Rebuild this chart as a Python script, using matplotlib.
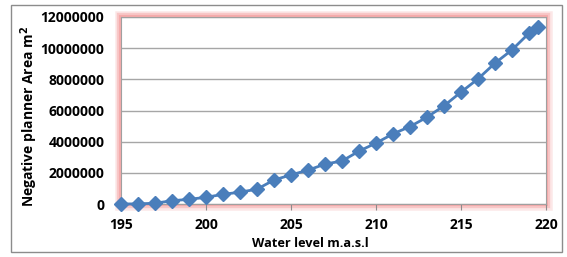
import matplotlib.pyplot as plt
from matplotlib.patches import Rectangle

# Water level (m.a.s.l) and negative planner area (m2)
levels = [195, 196, 197, 198, 199, 200, 201, 202, 203, 204, 205, 206, 207,
          208, 209, 210, 211, 212, 213, 214, 215, 216, 217, 218, 219, 219.5]
area = [0, 10000, 50000, 210000, 300000, 430000, 620000, 760000, 950000,
        1540000, 1870000, 2170000, 2560000, 2760000, 3390000, 3910000,
        4500000, 4970000, 5570000, 6300000, 7180000, 8030000, 9040000,
        9890000, 10960000, 11350000]

x_ticks = [195, 200, 205, 210, 215, 220]
y_ticks = [0, 2000000, 4000000, 6000000, 8000000, 10000000, 12000000]

plt.rcParams['font.family'] = ['Open Sans', 'DejaVu Sans']

fig = plt.figure(figsize=(5.67, 2.57), dpi=100)

# outer chart border
fig.patches.append(Rectangle((11 / 567, 1 - 252 / 257), 551 / 567, 247 / 257,
                             transform=fig.transFigure, fill=False,
                             edgecolor='#8c8c8c', linewidth=1.0, zorder=-5))

ax_pos = [121 / 567, 1 - 204 / 257, 425 / 567, 187 / 257]

# pink glow around plot area
for lw, a in [(9, 0.25), (6, 0.45), (3, 0.7)]:
    fig.patches.append(Rectangle((ax_pos[0], ax_pos[1]), ax_pos[2], ax_pos[3],
                                 transform=fig.transFigure, fill=False,
                                 edgecolor='#f4a0a0', alpha=a, linewidth=lw,
                                 zorder=-2))

ax = fig.add_axes(ax_pos)
ax.plot(levels, area, color='#4a7ebb', linewidth=2.0, marker='D',
        markersize=7.5, markeredgecolor='#4a7ebb', clip_on=False, zorder=3)

ax.set_xlim(195, 220)
ax.set_ylim(0, 12000000)
ax.set_xticks(x_ticks)
ax.set_yticks(y_ticks)
ax.set_xticklabels([str(t) for t in x_ticks], fontsize=10, fontweight='bold')
ax.set_yticklabels([str(t) for t in y_ticks], fontsize=10, fontweight='bold')
ax.tick_params(axis='x', direction='out', length=4, color='#8c8c8c', pad=6)
ax.tick_params(axis='y', length=0, pad=12)
ax.grid(axis='y', color='#a6a6a6', linewidth=1.0)
ax.set_axisbelow(True)
for s in ax.spines.values():
    s.set_color('#a0a0a0')
    s.set_linewidth(0.8)

ax.set_xlabel('Water level m.a.s.l', fontsize=9.2, fontweight='bold')
ax.set_ylabel('Negative planner Area m$^\\mathbf{2}$', fontsize=10,
              fontweight='bold')
ax.xaxis.set_label_coords(0.445, -0.175)
ax.yaxis.set_label_coords(-0.19, 0.47)

fig.savefig('out.png', dpi=100)
